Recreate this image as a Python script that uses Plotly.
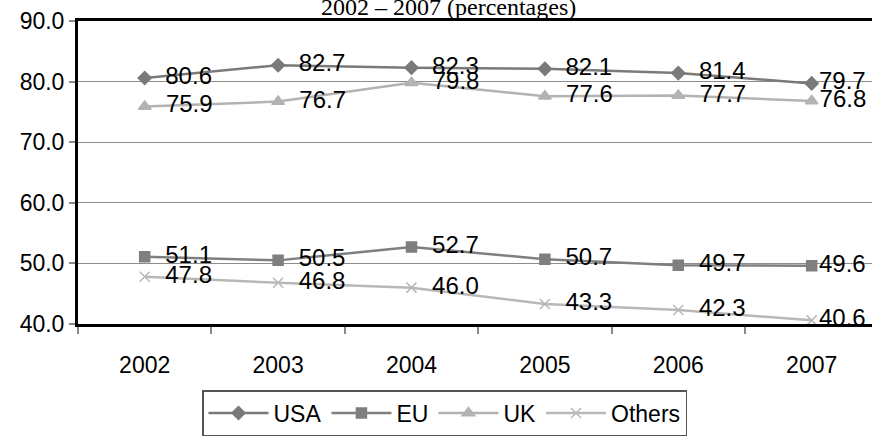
import plotly.graph_objects as go

years = ["2002", "2003", "2004", "2005", "2006", "2007"]
usa = [80.6, 82.7, 82.3, 82.1, 81.4, 79.7]
eu = [51.1, 50.5, 52.7, 50.7, 49.7, 49.6]
uk = [75.9, 76.7, 79.8, 77.6, 77.7, 76.8]
others = [47.8, 46.8, 46.0, 43.3, 42.3, 40.6]
y_ticks = [40, 50, 60, 70, 80, 90]

series = [
    ("USA", usa, "#7a7a7a", "diamond", 10),
    ("EU", eu, "#7f7f7f", "square", 10),
    ("UK", uk, "#b3b3b3", "triangle-up", 11),
    ("Others", others, "#b8b8b8", "x-thin-open", 10),
]

W, H = 872, 436
L, R, T, B = 78, 0, 21, 108
NBSP = "\u00a0"


def label(i, v):
    # last column sits against the right edge, so its labels hug the marker
    pad = "" if i == len(years) - 1 else NBSP * 2
    return pad + f"{v:.1f}"


fig = go.Figure()
for name, vals, color, symbol, size in series:
    fig.add_trace(go.Scatter(
        x=years, y=vals, name=name,
        mode="lines+markers+text",
        line=dict(color=color, width=2.5),
        marker=dict(symbol=symbol, size=size, color=color,
                    line=dict(color=color, width=1.5)),
        text=[label(i, v) for i, v in enumerate(vals)],
        textposition="middle right",
        textfont=dict(family="Liberation Sans, Arial, sans-serif", size=24, color="black"),
        cliponaxis=False,
    ))

fig.update_layout(
    width=W, height=H,
    margin=dict(l=L, r=R, t=T, b=B),
    paper_bgcolor="white", plot_bgcolor="white",
    font=dict(family="Liberation Sans, Arial, sans-serif", size=23, color="black"),
    showlegend=True,
    legend=dict(
        orientation="h", x=(202 - L) / (W - L), xanchor="left", y=-0.218, yanchor="top",
        bordercolor="#555555", borderwidth=1.5,
        font=dict(size=23), itemwidth=60, tracegroupgap=0,
    ),
    annotations=[dict(
        text="2002 – 2007 (percentages)", xref="paper", yref="paper",
        x=0.467, y=0.998, xanchor="center", yanchor="bottom", showarrow=False,
        font=dict(family="Liberation Serif, Times New Roman, serif", size=24, color="black"),
    )],
)

fig.update_xaxes(
    type="category",
    range=[-0.5, -0.5 + (W - L) / 133.4],
    tickson="boundaries", ticks="outside", ticklen=7, tickcolor="#888888", tickwidth=1.5,
    showline=True, linecolor="black", linewidth=3, mirror=True,
    showgrid=False, tickfont=dict(size=23), ticklabelstandoff=18,
)
fig.update_yaxes(
    range=[40, 90], tickvals=y_ticks, ticktext=[f"{v:.1f}" for v in y_ticks],
    ticks="outside", ticklen=6, tickcolor="#888888", tickwidth=1.5,
    showline=True, linecolor="black", linewidth=3,
    showgrid=True, gridcolor="#8c8c8c", gridwidth=1,
    zeroline=False, tickfont=dict(size=23),
)

fig.write_html("out.html")
